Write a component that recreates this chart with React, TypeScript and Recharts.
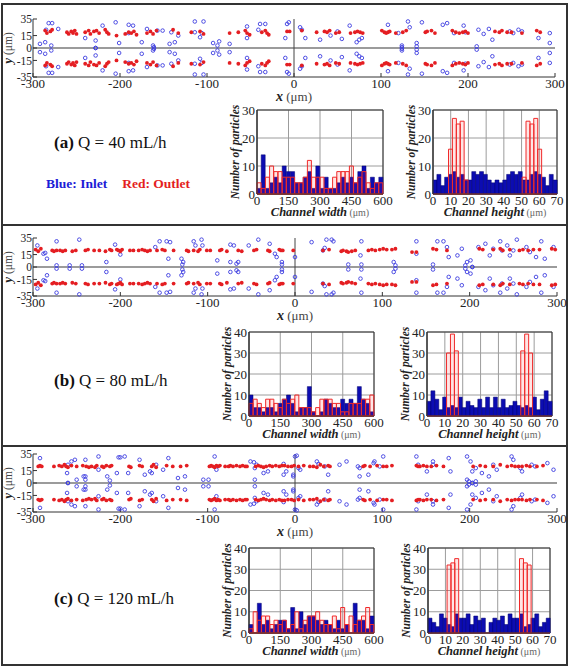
import React from "react";
import {
  ScatterChart,
  Scatter,
  BarChart,
  Bar,
  XAxis,
  YAxis,
  CartesianGrid,
  ReferenceLine,
  ReferenceArea,
} from "recharts";

const SERIF = '"Liberation Serif", "Times New Roman", serif';

type Pair = [number, number];

// tracked particle positions (x, y) in μm, upper half of the channel
const INLET_40: Pair[] = [
  [-292, 5], [-286, 7], [-285, 22], [-282, 30], [-278, 30], [-279, 3], [-271, 23], [-240, 12],
  [-228, 9], [-228, 0], [-220, 27], [-205, 31], [-201, 6], [-190, 28], [-185, 27], [-190, 18],
  [-175, 7], [-169, 23], [-162, 3], [-161, 1], [-157, 21], [-151, 21], [-143, 5], [-141, 19],
  [-137, 7], [-133, 15], [-114, 32], [-114, 19], [-108, 13], [-106, 18], [-104, 32], [-93, 6],
  [-88, 3], [-86, 8], [-74, 5], [-54, 26], [-54, 12], [-41, 22], [-39, 29], [-33, 29], [-8, 29],
  [-10, 12], [-6, 31], [7, 25], [9, 22], [13, 12], [30, 10], [42, 15], [50, 20], [55, 11],
  [64, 27], [72, 7], [75, 10], [78, 12], [108, 28], [120, 18], [131, 32], [133, 25], [124, 3],
  [124, 1], [141, 6], [141, 2], [147, 31], [171, 28], [176, 30], [184, 18], [195, 27], [197, 19],
  [210, 2], [212, 22], [218, 17], [224, 23], [228, 10], [248, 20], [252, 18], [258, 22],
  [262, 20], [281, 12], [294, 18], [294, 6],
];
const OUTLET_40: Pair[] = [
  [-286, 21], [-284, 18], [-280, 20], [-278, 22], [-261, 19], [-259, 17], [-256, 20], [-254, 18],
  [-252, 21], [-250, 17], [-240, 19], [-236, 21], [-234, 17], [-230, 20], [-227, 21], [-224, 18],
  [-217, 22], [-215, 19], [-213, 17], [-204, 15], [-194, 17], [-190, 19], [-187, 18], [-184, 20],
  [-181, 16], [-169, 18], [-165, 20], [-162, 17], [-158, 21], [-139, 22], [-133, 18], [-118, 19],
  [-108, 20], [-104, 17], [-74, 18], [-64, 19], [-56, 21], [-54, 18], [-51, 16], [-37, 19],
  [-33, 21], [-31, 18], [-29, 16], [-8, 20], [-5, 20], [9, 21], [26, 19], [35, 20], [38, 19],
  [41, 21], [48, 18], [52, 19], [65, 18], [70, 19], [73, 20], [76, 19], [79, 18], [101, 21],
  [104, 19], [106, 18], [108, 19], [110, 20], [117, 18], [125, 19], [129, 21], [151, 19],
  [153, 20], [158, 21], [162, 18], [182, 21], [186, 19], [190, 18], [194, 19], [197, 20],
  [200, 18], [231, 20], [236, 19], [239, 21], [245, 19], [250, 19], [262, 18], [279, 21], [283, 19],
];

const INLET_80: Pair[] = [
  [-295, 26], [-288, 16], [-286, 17], [-284, 10], [-273, 31], [-273, 2], [-258, 2], [-247, 33],
  [-244, 2], [-216, 6], [-206, 27], [-200, 15], [-160, 24], [-155, 31], [-147, 31], [-143, 30],
  [-145, 10], [-130, 10], [-128, 6], [-129, 3], [-116, 31], [-114, 26], [-107, 33], [-106, 26],
  [-89, 8], [-74, 6], [-67, 4], [-65, 6], [-74, 27], [-70, 26], [-53, 26], [-42, 33], [-29, 28],
  [-23, 16], [-15, 6], [-15, 3], [-21, 12], [0, 12], [19, 30], [36, 33], [42, 33], [44, 31],
  [32, 20], [34, 23], [76, 31], [75, 14], [61, 3], [76, 3], [113, 6], [115, 2], [139, 31],
  [139, 16], [158, 3], [163, 31], [170, 31], [174, 24], [176, 12], [186, 14], [191, 22],
  [197, 6], [201, 8], [195, 2], [203, 0], [210, 24], [218, 28], [223, 14], [227, 22], [235, 31],
  [237, 20], [243, 26], [246, 14], [250, 20], [254, 33], [265, 24], [269, 18], [276, 12],
  [282, 31], [286, 10], [296, 24],
];
const OUTLET_80: Pair[] = [
  [-297, 21], [-294, 19], [-291, 22], [-278, 20], [-276, 19], [-273, 20], [-269, 20], [-266, 19],
  [-263, 20], [-255, 19], [-251, 20], [-240, 20], [-237, 21], [-230, 20], [-224, 20], [-217, 19],
  [-212, 21], [-210, 20], [-204, 21], [-202, 20], [-200, 19], [-198, 21], [-189, 20], [-185, 20],
  [-179, 20], [-175, 21], [-172, 20], [-169, 19], [-166, 20], [-158, 20], [-152, 21], [-149, 20],
  [-139, 20], [-124, 20], [-122, 19], [-116, 20], [-111, 19], [-109, 21], [-101, 20], [-97, 20],
  [-86, 20], [-84, 21], [-78, 19], [-65, 20], [-61, 19], [-47, 20], [-44, 21], [-31, 20],
  [-29, 19], [-18, 21], [-16, 20], [-14, 20], [-2, 20], [32, 20], [39, 21], [53, 19], [55, 20],
  [59, 19], [61, 18], [65, 19], [69, 20], [84, 20], [88, 21], [92, 20], [97, 21], [101, 22],
  [105, 21], [111, 21], [115, 22], [134, 18], [139, 18], [158, 22], [162, 21], [174, 20],
  [211, 22], [215, 21], [227, 21], [235, 22], [238, 20], [246, 21], [257, 20], [261, 21],
  [267, 20], [273, 21], [280, 21], [294, 22], [298, 21],
];

const INLET_120: Pair[] = [
  [-292, 30], [-260, 22], [-256, 26], [-252, 28], [-261, 12], [-242, 8], [-240, 4], [-250, 4],
  [-260, 0], [-240, 8], [-240, 28], [-225, 32], [-225, 16], [-215, 8], [-212, 3], [-202, 31],
  [-200, 31], [-195, 32], [-204, 12], [-191, 12], [-178, 28], [-172, 10], [-166, 14], [-164, 12],
  [-159, 22], [-151, 16], [-145, 30], [-134, 6], [-126, 8], [-105, 4], [-99, 4], [-92, 32],
  [-90, 16], [-51, 26], [-47, 25], [-44, 22], [-46, 18], [-36, 12], [-31, 14], [-46, 4],
  [-13, 23], [-10, 14], [-13, 10], [-2, 8], [2, 33], [0, 32], [4, 18], [6, 16], [-2, 10],
  [25, 26], [27, 23], [34, 20], [38, 10], [51, 22], [59, 26], [72, 20], [74, 18], [74, 8],
  [84, 10], [90, 24], [91, 26], [97, 20], [101, 32], [139, 32], [141, 22], [151, 14], [158, 26],
  [158, 22], [176, 30], [178, 14], [197, 32], [201, 26], [197, 4], [199, 2], [203, 0], [207, 2],
  [203, 14], [207, 18], [214, 12], [222, 8], [227, 22], [231, 16], [248, 32], [250, 28],
  [258, 18], [260, 14], [271, 22], [275, 20], [289, 24], [296, 16],
];
const OUTLET_120: Pair[] = [
  [-294, 20], [-292, 21], [-290, 20], [-276, 20], [-270, 21], [-267, 20], [-264, 22], [-262, 20],
  [-260, 19], [-256, 21], [-250, 20], [-243, 21], [-239, 20], [-236, 19], [-233, 20], [-229, 19],
  [-227, 21], [-221, 20], [-219, 19], [-216, 21], [-212, 20], [-210, 21], [-190, 20], [-188, 19],
  [-178, 21], [-175, 20], [-164, 20], [-162, 22], [-159, 19], [-147, 21], [-140, 20], [-131, 20],
  [-124, 21], [-98, 20], [-96, 21], [-94, 20], [-92, 19], [-90, 21], [-88, 20], [-86, 21],
  [-80, 20], [-76, 20], [-74, 21], [-71, 20], [-67, 21], [-63, 20], [-60, 21], [-57, 20],
  [-55, 20], [-45, 20], [-42, 21], [-39, 20], [-36, 19], [-33, 20], [-29, 21], [-26, 20],
  [-22, 21], [-18, 20], [-15, 21], [-12, 21], [-8, 20], [-4, 20], [-1, 21], [4, 20], [10, 21],
  [17, 20], [21, 20], [25, 19], [29, 22], [33, 20], [38, 21], [40, 20], [78, 20], [80, 21],
  [86, 20], [94, 21], [101, 20], [105, 20], [111, 21], [139, 21], [141, 20], [143, 20],
  [147, 21], [151, 20], [156, 20], [162, 21], [170, 20], [204, 20], [212, 21], [218, 20],
  [227, 20], [235, 22], [243, 20], [248, 21], [252, 20], [256, 20], [260, 20], [265, 21],
  [269, 20], [277, 20], [284, 21],
];

// histogram bins: 20 μm across the width, 70/32 μm across the height
const WIDTH_BINS = [
  10, 30, 50, 70, 90, 110, 130, 150, 170, 190, 210, 230, 250, 270, 290,
  310, 330, 350, 370, 390, 410, 430, 450, 470, 490, 510, 530, 550, 570, 590,
];
const HEIGHT_BINS = Array.from({ length: 32 }, (_, i) => ((i + 0.5) * 70) / 32);

const WIDTH_IN_40 = [2, 14, 2, 4, 6, 4, 10, 8, 8, 4, 4, 6, 8, 2, 10, 2, 6, 2, 2, 4, 6, 4, 6, 4, 8, 10, 2, 6, 4, 6];
const WIDTH_OUT_40 = [4, 2, 6, 10, 8, 8, 6, 6, 6, 4, 4, 6, 12, 6, 6, 6, 2, 2, 6, 8, 8, 8, 10, 4, 6, 8, 4, 2, 4, 4];
const HEIGHT_IN_40 = [5, 7, 3, 6, 7, 8, 6, 7, 5, 5, 8, 7, 8, 7, 5, 4, 5, 4, 5, 7, 8, 7, 8, 5, 5, 7, 8, 7, 6, 3, 7, 5];
const HEIGHT_OUT_40 = [0, 0, 0, 0, 16, 27, 25, 26, 5, 0, 0, 0, 0, 0, 0, 0, 0, 0, 0, 0, 0, 0, 0, 6, 26, 25, 27, 16, 0, 0, 0, 0];

const WIDTH_IN_80 = [10, 4, 4, 2, 4, 4, 2, 6, 8, 10, 6, 2, 4, 4, 14, 2, 0, 2, 8, 6, 4, 4, 8, 6, 8, 6, 14, 8, 6, 2];
const WIDTH_OUT_80 = [6, 8, 6, 4, 8, 8, 6, 4, 8, 6, 8, 10, 4, 4, 4, 2, 4, 8, 8, 8, 6, 6, 2, 2, 6, 6, 6, 8, 8, 10];
const HEIGHT_IN_80 = [7, 12, 8, 3, 9, 4, 5, 4, 9, 4, 7, 5, 4, 8, 4, 9, 4, 9, 4, 8, 4, 5, 7, 5, 4, 5, 4, 9, 3, 8, 12, 7];
const HEIGHT_OUT_80 = [0, 0, 0, 0, 0, 30, 39, 31, 0, 0, 0, 0, 0, 0, 0, 0, 0, 0, 0, 0, 0, 0, 0, 0, 31, 39, 30, 0, 0, 0, 0, 0];

const WIDTH_IN_120 = [4, 0, 14, 4, 6, 2, 4, 6, 6, 2, 12, 2, 10, 4, 8, 8, 6, 4, 6, 4, 2, 6, 2, 4, 0, 14, 6, 6, 2, 8];
const WIDTH_OUT_120 = [2, 10, 6, 8, 8, 4, 6, 4, 6, 2, 4, 10, 2, 6, 8, 8, 10, 6, 4, 4, 8, 2, 12, 4, 8, 4, 6, 8, 12, 4];
const HEIGHT_IN_120 = [7, 5, 3, 9, 7, 4, 3, 9, 7, 7, 9, 4, 8, 6, 7, 0, 5, 7, 6, 8, 4, 9, 7, 7, 9, 3, 4, 7, 9, 3, 5, 7];
const HEIGHT_OUT_120 = [0, 0, 0, 0, 0, 32, 33, 35, 0, 0, 0, 0, 0, 0, 0, 0, 0, 0, 0, 0, 0, 0, 0, 0, 35, 33, 32, 0, 0, 0, 0, 0];

const MAP_X_TICKS = [-300, -200, -100, 0, 100, 200, 300];
const MAP_Y_TICKS = [-35, -15, 0, 15, 35];
const WIDTH_TICKS = [0, 150, 300, 450, 600];
const HEIGHT_TICKS = [0, 10, 20, 30, 40, 50, 60, 70];

// the channel is symmetric about y = 0, so every particle is plotted in both halves
const bothHalves = (pts: Pair[]) => pts.flatMap(([x, y]) => [{ x, y }, { x, y: -y }]);

const tickFont = { fontFamily: SERIF, fontSize: 13, fill: "#222" };
const mapYTickFont = { fontFamily: SERIF, fontSize: 11.5, fill: "#222" };

const OpenCircle = (p: any) => (
  <circle cx={p.cx} cy={p.cy} r={1.8} fill="none" stroke="#3c3ce0" strokeWidth={0.9} />
);
const Dot = (p: any) => <circle cx={p.cx} cy={p.cy} r={1.9} fill="#e41e22" />;

const mapXTitle = (props: any) => {
  const vb = props.viewBox;
  return (
    <text x={vb.x + vb.width / 2} y={vb.y + 24} textAnchor="middle" fontFamily={SERIF} fontSize={13} fill="#222">
      <tspan fontWeight="bold" fontStyle="italic" fontSize={14}>x</tspan>
      <tspan fill="#444"> (μm)</tspan>
    </text>
  );
};

const mapYTitle = (props: any) => {
  const vb = props.viewBox;
  const x = 12;
  const cy = vb.y + vb.height / 2;
  return (
    <text x={x} y={cy} transform={`rotate(-90 ${x} ${cy})`} textAnchor="middle" fontFamily={SERIF} fontSize={11.5} fill="#222">
      <tspan fontWeight="bold" fontStyle="italic" fontSize={13}>y</tspan>
      <tspan fill="#444"> (μm)</tspan>
    </text>
  );
};

function ParticleMap({ top, right, inlet, outlet }: { top: number; right: number; inlet: Pair[]; outlet: Pair[] }) {
  return (
    <div style={{ position: "absolute", left: 0, top, fontFamily: SERIF }}>
      <ScatterChart width={573} height={105} margin={{ top: 19, right, bottom: 8, left: 0 }} style={{ fontFamily: SERIF }}>
        <XAxis
          type="number"
          dataKey="x"
          domain={[-300, 300]}
          ticks={MAP_X_TICKS}
          interval={0}
          height={20}
          stroke="#333"
          tickSize={-4}
          tickMargin={6}
          tick={tickFont}
          label={mapXTitle}
        />
        <XAxis xAxisId="top" orientation="top" type="number" domain={[-300, 300]} ticks={MAP_X_TICKS} height={0} stroke="#333" tickSize={-4} tick={false} />
        <YAxis
          type="number"
          dataKey="y"
          domain={[-35, 35]}
          ticks={MAP_Y_TICKS}
          interval={0}
          width={33}
          stroke="#333"
          tickSize={-4}
          tickMargin={5}
          tick={mapYTickFont}
          label={mapYTitle}
        />
        <YAxis yAxisId="right" orientation="right" type="number" domain={[-35, 35]} ticks={MAP_Y_TICKS} width={0} stroke="#333" tickSize={-4} tick={false} />
        <ReferenceLine y={0} stroke="#7a7a7a" strokeWidth={1.3} />
        <ReferenceLine x={0} stroke="#444" />
        <Scatter data={bothHalves(inlet)} shape={OpenCircle} isAnimationActive={false} />
        <Scatter data={bothHalves(outlet)} shape={Dot} isAnimationActive={false} />
      </ScatterChart>
    </div>
  );
}

const countTitle = (props: any) => {
  const vb = props.viewBox;
  const x = vb.x + vb.width - 18;
  const cy = vb.y + vb.height / 2;
  return (
    <text x={x} y={cy} transform={`rotate(-90 ${x} ${cy})`} textAnchor="middle" fontFamily={SERIF} fontWeight="bold" fontStyle="italic" fontSize={11.5} fill="#222">
      Number of particles
    </text>
  );
};

const channelTitle = (name: string) => (props: any) => {
  const vb = props.viewBox;
  return (
    <text x={vb.x + vb.width / 2} y={vb.y + 22} textAnchor="middle" fontFamily={SERIF} fontSize={12.5} fill="#222">
      <tspan fontWeight="bold" fontStyle="italic">{name}</tspan>
      <tspan fontSize={10} fill="#666"> (μm)</tspan>
    </text>
  );
};

type HistProps = {
  plotLeft: number;
  plotTop: number;
  plotW: number;
  plotH: number;
  bins: number[];
  inlet: number[];
  outlet: number[];
  xMax: number;
  xTicks: number[];
  yMax: number;
  yTicks: number[];
  name: string;
};

function Histogram({ plotLeft, plotTop, plotW, plotH, bins, inlet, outlet, xMax, xTicks, yMax, yTicks, name }: HistProps) {
  const data = bins.map((c, i) => ({ c, inlet: inlet[i], outlet: outlet[i] }));
  const yW = 42;
  const right = 12;
  const top = 10;
  const xH = 31;
  return (
    <div style={{ position: "absolute", left: plotLeft - yW, top: plotTop - top, fontFamily: SERIF }}>
      <BarChart
        width={yW + plotW + right}
        height={top + plotH + xH}
        data={data}
        margin={{ top, right, bottom: 0, left: 0 }}
        barCategoryGap={0}
        barGap={0}
        style={{ fontFamily: SERIF }}
      >
        <CartesianGrid stroke="#9c9c9c" />
        <XAxis
          dataKey="c"
          type="number"
          domain={[0, xMax]}
          ticks={xTicks}
          interval={0}
          height={xH}
          stroke="#333"
          tickLine={false}
          tickSize={0}
          tickMargin={2}
          tick={tickFont}
          label={channelTitle(name)}
        />
        <XAxis xAxisId="out" dataKey="c" type="number" domain={[0, xMax]} hide />
        <YAxis
          domain={[0, yMax]}
          ticks={yTicks}
          interval={0}
          width={yW}
          stroke="#333"
          tickLine={false}
          tickSize={0}
          tickMargin={2}
          tick={tickFont}
          label={countTitle}
        />
        <Bar dataKey="inlet" fill="#0c0cb2" stroke="#00006e" strokeWidth={0.5} isAnimationActive={false} />
        <Bar dataKey="outlet" xAxisId="out" fill="rgba(255,40,40,0.12)" stroke="#f02a2a" strokeWidth={1} isAnimationActive={false} />
        <ReferenceArea x1={0} x2={xMax} y1={0} y2={yMax} fill="none" stroke="#333" strokeWidth={1} ifOverflow="visible" />
        <ReferenceLine y={0} stroke="#e03030" />
      </BarChart>
    </div>
  );
}

function Caption({ top, tag, flow }: { top: number; tag: string; flow: string }) {
  return (
    <div style={{ position: "absolute", left: 54, top, fontFamily: SERIF, fontSize: 17, lineHeight: "20px", color: "#111", whiteSpace: "nowrap" }}>
      <b>({tag})</b> Q = {flow} mL/h
    </div>
  );
}

export default function App() {
  return (
    <div style={{ position: "absolute", left: 0, top: 0, width: 573, height: 666, background: "#fff", overflow: "hidden", fontFamily: SERIF }}>
      <div style={{ position: "absolute", left: 1, top: 3, width: 563, height: 659, border: "2px solid #333" }} />
      <div style={{ position: "absolute", left: 1, top: 224, width: 567, height: 2, background: "#333" }} />
      <div style={{ position: "absolute", left: 1, top: 445, width: 567, height: 2, background: "#333" }} />

      {/* (a) Q = 40 mL/h */}
      <ParticleMap top={0} right={18} inlet={INLET_40} outlet={OUTLET_40} />
      <Caption top={133} tag="a" flow="40" />
      <div style={{ position: "absolute", left: 46, top: 176, fontFamily: SERIF, fontSize: 13.5, fontWeight: "bold", whiteSpace: "nowrap" }}>
        <span style={{ color: "#1c1cd6" }}>Blue: Inlet</span>
        <span style={{ color: "#e41e22", marginLeft: 15 }}>Red: Outlet</span>
      </div>
      <Histogram plotLeft={257} plotTop={110} plotW={126} plotH={84} bins={WIDTH_BINS} inlet={WIDTH_IN_40} outlet={WIDTH_OUT_40}
        xMax={600} xTicks={WIDTH_TICKS} yMax={30} yTicks={[0, 10, 20, 30]} name="Channel width" />
      <Histogram plotLeft={433} plotTop={110} plotW={124} plotH={84} bins={HEIGHT_BINS} inlet={HEIGHT_IN_40} outlet={HEIGHT_OUT_40}
        xMax={70} xTicks={HEIGHT_TICKS} yMax={30} yTicks={[0, 10, 20, 30]} name="Channel height" />

      {/* (b) Q = 80 mL/h */}
      <ParticleMap top={219} right={16} inlet={INLET_80} outlet={OUTLET_80} />
      <Caption top={371} tag="b" flow="80" />
      <Histogram plotLeft={249} plotTop={332} plotW={125} plotH={84} bins={WIDTH_BINS} inlet={WIDTH_IN_80} outlet={WIDTH_OUT_80}
        xMax={600} xTicks={WIDTH_TICKS} yMax={40} yTicks={[0, 10, 20, 30, 40]} name="Channel width" />
      <Histogram plotLeft={427} plotTop={332} plotW={125} plotH={84} bins={HEIGHT_BINS} inlet={HEIGHT_IN_80} outlet={HEIGHT_OUT_80}
        xMax={70} xTicks={HEIGHT_TICKS} yMax={40} yTicks={[0, 10, 20, 30, 40]} name="Channel height" />

      {/* (c) Q = 120 mL/h */}
      <ParticleMap top={435} right={16} inlet={INLET_120} outlet={OUTLET_120} />
      <Caption top={589} tag="c" flow="120" />
      <Histogram plotLeft={249} plotTop={548} plotW={125} plotH={85} bins={WIDTH_BINS} inlet={WIDTH_IN_120} outlet={WIDTH_OUT_120}
        xMax={600} xTicks={WIDTH_TICKS} yMax={40} yTicks={[0, 10, 20, 30, 40]} name="Channel width" />
      <Histogram plotLeft={428} plotTop={548} plotW={122} plotH={85} bins={HEIGHT_BINS} inlet={HEIGHT_IN_120} outlet={HEIGHT_OUT_120}
        xMax={70} xTicks={HEIGHT_TICKS} yMax={40} yTicks={[0, 10, 20, 30, 40]} name="Channel height" />
    </div>
  );
}
